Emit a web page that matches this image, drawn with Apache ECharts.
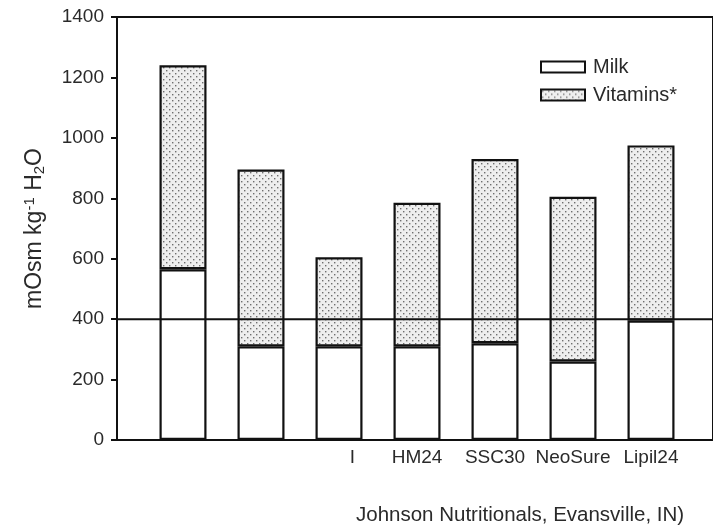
<!DOCTYPE html>
<html>
<head>
<meta charset="utf-8">
<script src="https://cdn.jsdelivr.net/npm/echarts@6/dist/echarts.min.js"></script>
<style>
  html, body { margin: 0; padding: 0; background: #ffffff; }
  #chart { width: 713px; height: 525px; }
</style>
</head>
<body>
<div id="chart"></div>
<script>
// Osmolality of fortified milk: milk contribution plus vitamin/fortifier addition
const categories = ['', '', 'I', 'HM24', 'SSC30', 'NeoSure', 'Lipil24'];
const milkValues = [565, 310, 310, 310, 320, 260, 395];
const totalValues = [1240, 895, 605, 785, 930, 805, 975];
const yTicks = [0, 200, 400, 600, 800, 1000, 1200, 1400];
const referenceLevel = 400;

const vitaminValues = totalValues.map((t, i) => t - milkValues[i]);

// stippled fill for the vitamin portion
function makeStipple() {
  const c = document.createElement('canvas');
  c.width = 6; c.height = 6;
  const g = c.getContext('2d');
  g.fillStyle = '#eeeeee';
  g.fillRect(0, 0, 6, 6);
  g.fillStyle = '#6e6e6e';
  g.fillRect(1, 1, 1.4, 1.4);
  g.fillRect(4, 4, 1.4, 1.4);
  return c;
}
const stipple = { image: makeStipple(), repeat: 'repeat' };

const chart = echarts.init(document.getElementById('chart'), null, { renderer: 'canvas' });
const font = 'Liberation Sans, Arial, sans-serif';
const ink = '#2a2a2a';

chart.setOption({
  animation: false,
  backgroundColor: '#ffffff',
  textStyle: { fontFamily: font },
  title: {
    text: 'Johnson Nutritionals, Evansville, IN)',
    left: 351, top: 500,
    textStyle: { fontFamily: font, fontSize: 20.5, fontWeight: 'normal', color: ink }
  },
  legend: {
    orient: 'vertical',
    left: 535, top: 52,
    itemWidth: 44, itemHeight: 11, itemGap: 8,
    icon: 'rect',
    data: ['Milk', 'Vitamins*'],
    textStyle: { fontFamily: font, fontSize: 20, color: ink, padding: [0, 0, 0, 3] }
  },
  grid: [
    { left: 144, right: 23, top: 17, bottom: 85 },
    { left: 117, right: -10, top: 17, bottom: 85, show: true,
      borderColor: '#111', borderWidth: 2, backgroundColor: 'transparent' }
  ],
  xAxis: [
    {
      gridIndex: 0, type: 'category', data: categories, boundaryGap: true,
      axisLine: { show: false }, axisTick: { show: false },
      axisLabel: {
        interval: 0, hideOverlap: false,
        fontFamily: font, fontSize: 19, color: ink, margin: 8,
        formatter: v => v === 'I' ? '{cut|' + v + '}' : v,
        rich: { cut: { fontFamily: font, fontSize: 19, color: ink, padding: [0, 0, 0, 27] } }
      }
    },
    { gridIndex: 1, type: 'value', min: 0, max: 1, show: false }
  ],
  yAxis: [
    {
      gridIndex: 0, type: 'value', min: 0, max: 1400, interval: 200, offset: 27,
      name: 'mOsm kg{sup|-1} H{sub|2}O',
      nameLocation: 'middle', nameGap: 70, nameRotate: 90,
      nameTextStyle: {
        fontFamily: font, fontSize: 23, color: ink,
        rich: {
          sup: { fontFamily: font, fontSize: 15, color: ink, verticalAlign: 'top', padding: [0, 0, 10, 0] },
          sub: { fontFamily: font, fontSize: 15, color: ink, verticalAlign: 'bottom', padding: [10, 0, 0, 0] }
        }
      },
      axisLine: { show: true, lineStyle: { color: '#111', width: 2 } },
      axisTick: { show: true, length: 6, lineStyle: { color: '#111', width: 2 } },
      axisLabel: {
        fontFamily: font, fontSize: 19, color: ink, margin: 13,
        formatter: v => yTicks.includes(v) ? String(v) : ''
      },
      splitLine: { show: false }
    },
    { gridIndex: 1, type: 'value', min: 0, max: 1400, show: false }
  ],
  series: [
    {
      name: 'Milk', type: 'bar', stack: 'osm', xAxisIndex: 0, yAxisIndex: 0,
      barWidth: 47, data: milkValues,
      itemStyle: { color: '#ffffff', borderColor: '#111', borderWidth: 2.2 }
    },
    {
      name: 'Vitamins*', type: 'bar', stack: 'osm', xAxisIndex: 0, yAxisIndex: 0,
      barWidth: 47, data: vitaminValues,
      itemStyle: { color: stipple, borderColor: '#111', borderWidth: 2.2 }
    },
    {
      name: 'ref', type: 'line', xAxisIndex: 1, yAxisIndex: 1, z: 10,
      symbol: 'none', silent: true,
      data: [[0, referenceLevel], [1, referenceLevel]],
      lineStyle: { color: '#111', width: 2 }
    }
  ]
});
</script>
</body>
</html>
